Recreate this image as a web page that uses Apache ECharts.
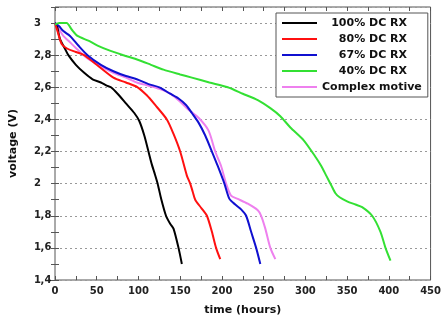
<!DOCTYPE html>
<html><head><meta charset="utf-8">
<script src="https://cdn.jsdelivr.net/npm/echarts@6/dist/echarts.min.js"></script>
<style>html,body{margin:0;padding:0;background:#fff}#c{width:444px;height:321px}</style>
</head><body><div id="c"></div>
<script>
const seriesNames = ['100% DC RX', '80% DC RX', '67% DC RX', '40% DC RX', 'Complex motive'];
const t100 = [0,2,6,12,16,25,35,45,55,62,67,75,85,95,101,107,112,116,119,123,127,133,138,142,148,152];
const v100 = [3.0,2.99,2.90,2.84,2.80,2.74,2.69,2.65,2.63,2.61,2.60,2.56,2.50,2.44,2.39,2.30,2.20,2.12,2.07,2.00,1.91,1.80,1.75,1.72,1.60,1.50];
const t80 = [0,3,8,15,25,35,50,70,85,99,110,120,134,142,150,158,162,165,168,175,182,188,193,198];
const v80 = [3.0,2.95,2.87,2.84,2.82,2.80,2.74,2.66,2.63,2.60,2.55,2.49,2.40,2.31,2.20,2.05,2.00,1.95,1.90,1.85,1.80,1.70,1.60,1.53];
const t67 = [0,5,10,18,28,39,55,70,85,98,112,125,138,148,157,164,172,180,188,195,203,209,216,223,229,235,241,246];
const v67 = [3.0,2.98,2.95,2.92,2.86,2.80,2.74,2.70,2.67,2.65,2.62,2.60,2.56,2.53,2.49,2.44,2.38,2.30,2.20,2.11,2.00,1.905,1.87,1.84,1.80,1.70,1.60,1.50];
const t40 = [0,5,10,14,20,27,40,51,65,82,100,115,130,150,164,185,207,225,243,258,270,282,298,313,319,325,331,336,341,350,360,368,380,390,396,402];
const v40 = [2.99,3.0,3.0,3.0,2.96,2.92,2.89,2.86,2.83,2.80,2.77,2.74,2.71,2.68,2.66,2.63,2.60,2.56,2.52,2.47,2.42,2.35,2.27,2.16,2.11,2.05,1.99,1.94,1.915,1.89,1.87,1.854,1.80,1.70,1.60,1.52];
const tCx = [0,5,10,18,28,39,55,70,85,98,112,125,138,150,160,172,184,192,199,205,211,219,231,243,247,252,258,264];
const vCx = [3.0,2.96,2.92,2.88,2.83,2.78,2.73,2.69,2.66,2.63,2.61,2.59,2.56,2.51,2.46,2.41,2.33,2.20,2.11,2.00,1.925,1.905,1.875,1.834,1.80,1.72,1.60,1.53];
const colors = ['#000000', '#ff1010', '#1010d0', '#33e033', '#ee80ee'];

const pairs = (t, v) => t.map((x, i) => [x, v[i]]);
const allData = [pairs(t100, v100), pairs(t80, v80), pairs(t67, v67), pairs(t40, v40), pairs(tCx, vCx)];

const FONT = 'DejaVu Sans';
const chart = echarts.init(document.getElementById('c'), null, {renderer: 'canvas'});
const tickStyle = {lineStyle: {color: '#555', width: 1}};
chart.setOption({
  animation: false,
  backgroundColor: '#fff',
  grid: {left: 54, right: 8, top: 7, bottom: 35, show: true, borderColor: '#555', borderWidth: 1},
  legend: {
    orient: 'vertical', left: 276, top: 13,
    data: seriesNames,
    icon: 'rect',
    itemWidth: 35, itemHeight: 2, itemGap: 2, itemTextGap: 5,
    padding: [3, 6, 3, 6],
    borderColor: '#555', borderWidth: 1, backgroundColor: '#fff',
    formatter: n => n === 'Complex motive' ? '{c|' + n + '}' : '{r|' + n + '}',
    textStyle: {
      fontFamily: FONT, fontWeight: 'bold', fontSize: 11, color: '#111', lineHeight: 14,
      rich: {
        r: {width: 85, align: 'right', fontFamily: FONT, fontWeight: 'bold', fontSize: 11, color: '#111', lineHeight: 14},
        c: {fontFamily: FONT, fontWeight: 'bold', fontSize: 11, color: '#111', lineHeight: 14}
      }
    }
  },
  xAxis: [{
    type: 'value', min: 0, max: 450, interval: 50,
    name: 'time (hours)', nameLocation: 'middle', nameGap: 25,
    nameTextStyle: {fontFamily: FONT, fontWeight: 'bold', fontSize: 11, color: '#111'},
    axisLine: {show: false},
    axisTick: {show: true, inside: true, length: 4, ...tickStyle},
    minorTick: {show: true, splitNumber: 2, length: 4, ...tickStyle},
    splitLine: {show: false},
    axisLabel: {fontFamily: FONT, fontWeight: 'bold', fontSize: 10, color: '#222', margin: 6}
  }, {
    type: 'value', min: 0, max: 450, interval: 50, position: 'top',
    axisLine: {show: false},
    axisTick: {show: true, inside: true, length: 4, ...tickStyle},
    minorTick: {show: true, splitNumber: 2, length: 4, ...tickStyle},
    splitLine: {show: false}, axisLabel: {show: false}
  }],
  yAxis: [{
    type: 'value', min: 1.4, max: 3.1, interval: 0.2,
    name: 'voltage (V)', nameLocation: 'middle', nameGap: 36,
    nameTextStyle: {fontFamily: FONT, fontWeight: 'bold', fontSize: 11, color: '#111'},
    axisLine: {show: false},
    axisTick: {show: true, inside: true, length: 4, ...tickStyle},
    minorTick: {show: true, splitNumber: 2, length: 4, ...tickStyle},
    splitLine: {show: true, lineStyle: {color: '#999', type: [2, 3], width: 1}},
    axisLabel: {
      margin: 4,
      formatter: v => {
        if (v > 3.05) return '';
        const s = v.toFixed(1);
        const [a, b] = s.split('.');
        return b === '0' ? '{i|' + a + '}{d| }' : '{i|' + a + '}{d|,' + b + '}';
      },
      rich: {
        i: {fontFamily: FONT, fontWeight: 'bold', fontSize: 10, color: '#222'},
        d: {fontFamily: FONT, fontWeight: 'bold', fontSize: 10, color: '#222', width: 10, align: 'left'}
      }
    }
  }, {
    type: 'value', min: 1.4, max: 3.1, interval: 0.2, position: 'right',
    axisLine: {show: false},
    axisTick: {show: true, inside: true, length: 4, ...tickStyle},
    minorTick: {show: true, splitNumber: 2, length: 4, ...tickStyle},
    splitLine: {show: false}, axisLabel: {show: false}
  }],
  series: seriesNames.map((n, i) => ({
    name: n, type: 'line', data: allData[i], symbol: 'none', smooth: 0.25,
    color: colors[i], lineStyle: {width: 2, color: colors[i]}, z: i === 4 ? 1 : 2
  }))
});
</script></body></html>
